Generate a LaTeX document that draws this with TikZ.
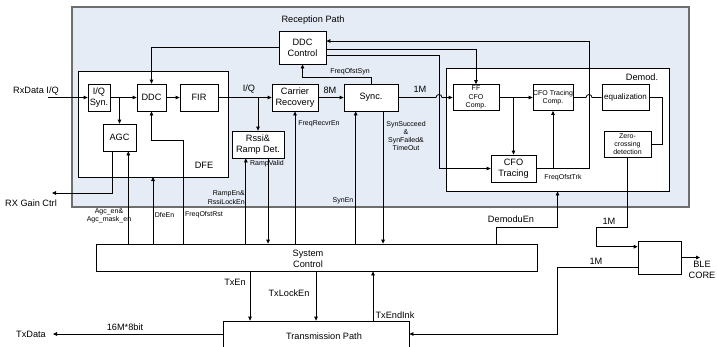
\documentclass[tikz,border=0pt]{standalone}
\usepackage{fontspec}
\setmainfont{Liberation Sans}
\usetikzlibrary{arrows.meta,calc}
\newcommand\mainsz{\fontsize{9.2bp}{11bp}\selectfont}
\newcommand\smsz{\fontsize{7bp}{8.3bp}\selectfont}
\definecolor{recepfill}{RGB}{230,236,246}
\definecolor{recepedge}{RGB}{110,110,110}
\begin{document}
\begin{tikzpicture}[x=1bp,y=-1bp,
  blk/.style={draw=black, line width=0.8bp, fill=white, inner sep=0pt, align=center, font=\mainsz},
  lbl/.style={inner sep=0pt, align=center, font=\mainsz},
  sml/.style={inner sep=0pt, align=center, font=\smsz},
  conn/.style={draw=black, line width=0.8bp},
  arr/.style={-{Triangle[length=4bp,width=3.6bp]}}]
\fill[white] (0,0) rectangle (717,346);
\useasboundingbox (0,0) rectangle (717,346);
% containers
\node[draw=recepedge, line width=1.5bp, fill=recepfill, minimum width=617bp, minimum height=200bp, inner sep=0pt] (recep) at (380.5,107) {};
\node[lbl] (receplbl) at (313,20) {Reception Path};
\node[blk, minimum width=150bp, minimum height=106bp] (dfe) at (153,124) {};
\node[lbl] (dfelbl) at (204,165) {DFE};
\node[blk, minimum width=223bp, minimum height=123bp] (demod) at (557.5,129.5) {};
\node[lbl] (demodlbl) at (642,77) {Demod.};
% blocks
\node[blk, minimum width=22bp, minimum height=27bp] (iqsyn) at (99,97.5) {I/Q\\Syn.};
\node[blk, minimum width=29bp, minimum height=27bp] (ddc) at (151.5,97.5) {DDC};
\node[blk, minimum width=38bp, minimum height=27bp] (fir) at (199,97.5) {FIR};
\node[blk, minimum width=33bp, minimum height=27bp] (agc) at (119.5,137.5) {AGC};
\node[blk, minimum width=46bp, minimum height=27bp] (carrier) at (295,97.5) {Carrier\\Recovery};
\node[blk, minimum width=54bp, minimum height=27bp] (sync) at (371,97.5) {Sync.};
\node[blk, minimum width=47bp, minimum height=33bp] (ddcctl) at (302.5,47.5) {DDC\\Control};
\node[blk, minimum width=52bp, minimum height=27bp] (rssi) at (258,144.5) {Rssi\&\\Ramp Det.};
\node[blk, font=\smsz, minimum width=46bp, minimum height=26bp] (ffcfo) at (476,97.5) {FF\\CFO\\Comp.};
\node[blk, font=\smsz, minimum width=40bp, minimum height=26bp] (cfocomp) at (553,97.5) {CFO Tracing\\Comp.};
\node[blk, minimum width=45bp, minimum height=27bp] (cfotr) at (513.5,168.5) {CFO\\Tracing};
\node[blk, font=\fontsize{8bp}{9bp}\selectfont, minimum width=47bp, minimum height=26bp] (equal) at (625.5,97.5) {equalization};
\node[blk, font=\smsz, minimum width=47bp, minimum height=26bp] (zero) at (627.5,144) {Zero-\\crossing\\detection};
\node[blk, minimum width=441bp, minimum height=27bp] (sysctl) at (316.5,257.5) {};
\node[lbl] (sysctltxt) at (308,259) {System\\Control};
\node[blk, minimum width=186bp, minimum height=26bp] (trans) at (316,334) {};
\node[lbl] (transtxt) at (324,336) {Transmission Path};
\node[blk, minimum width=43bp, minimum height=33bp] (ble) at (659.5,257.5) {};
\node[lbl] (blecore) at (702,270) {BLE\\CORE};
% helper coordinates
\coordinate (rxin) at (48,97.5);
\coordinate (rxg) at (52,193);
\coordinate (agcout) at ($(agc.south west)!0.3!(agc.south east)$);
\coordinate (agcen) at ($(agc.south west)!0.76!(agc.south east)$);
\coordinate (dfeen) at (153,177);
\coordinate (frst) at (183,140);
\coordinate (rampen) at ($(rssi.south west)!0.27!(rssi.south east)$);
\coordinate (rampv) at ($(rssi.south west)!0.69!(rssi.south east)$);
\coordinate (synen) at ($(sync.south west)!0.22!(sync.south east)$);
\coordinate (synok) at ($(sync.south west)!0.72!(sync.south east)$);
\coordinate (fos) at (371,77);
\coordinate (tk1) at (589,41);
\coordinate (ff1) at (476,49);
\coordinate (tr1) at (439,55);
\coordinate (demc) at (496,227);
\coordinate (zc1) at (596,227);
\coordinate (blein) at ($(ble.north west)!0.18!(ble.south west)$);
\coordinate (bleback) at ($(ble.north west)!0.79!(ble.south west)$);
\coordinate (tcorner) at (557,334);
\coordinate (bleout) at (700,257.5);
\coordinate (txout) at (53,334);
\coordinate (txen) at (250,300);
\coordinate (txend) at (373,300);
% main data path
\draw[conn,arr] (rxin) -- (iqsyn.west);
\draw[conn,arr] (iqsyn.east) -- (ddc.west);
\draw[conn,arr] (iqsyn.east -| agc.north) -- (agc.north);
\draw[conn,arr] (ddc.east) -- (fir.west);
\draw[conn,arr] (fir.east) -- (carrier.west);
\draw[conn,arr] (fir.east -| rssi.north) -- (rssi.north);
\draw[conn,arr] (carrier.east) -- (sync.west);
\draw[conn,arr] (sync.east) -- ($(tr1 |- sync.east)+(-3,0)$) arc[start angle=180,end angle=0,radius=3bp] -- (ffcfo.west);
\draw[conn,arr] (ffcfo.east) -- (cfocomp.west);
\draw[conn,arr] (ffcfo.east -| cfotr.north) -- (cfotr.north);
\draw[conn] (cfocomp.east) -- ($(tk1 |- cfocomp.east)+(-3,0)$) arc[start angle=180,end angle=0,radius=3bp] -- (equal.west);
\draw[conn] (equal.east) -- ++(13,0) |- (zero.east);
\draw[conn,arr] (zero.south) |- (zc1) |- (blein);
\draw[conn,arr] (ble.east) -- (bleout);
\draw[conn,arr] (bleback) -| (tcorner) -- (tcorner -| trans.east);
\draw[conn,arr] (agcout) |- (rxg);
% DDC control
\draw[conn,arr] (ddcctl.west) -| (ddc.north);
\draw[conn,arr] (sync.north) -- (fos) -| (ddcctl.south);
\draw[conn,arr] (cfotr.east) -| (tk1) -- (tk1 -| ddcctl.east);
\draw[conn,arr] (cfotr.east -| cfocomp.south) -- (cfocomp.south);
\draw[conn,arr] (ddcctl.east |- ff1) -| (ffcfo.north);
\draw[conn,arr] (ddcctl.east |- tr1) -- (tr1) |- (cfotr.west);
% system control
\draw[conn,arr] (sysctl.north -| agcen) -- (agcen);
\draw[conn,arr] (sysctl.north -| dfeen) -- (dfeen);
\draw[conn,arr] (sysctl.north -| frst) -- (frst) -| (ddc.south);
\draw[conn,arr] (sysctl.north -| rampen) -- (rampen);
\draw[conn,arr] (rampv) -- (sysctl.north -| rampv);
\draw[conn,arr] (sysctl.north -| carrier.south) -- (carrier.south);
\draw[conn,arr] (sysctl.north -| synen) -- (synen);
\draw[conn,arr] (synok) -- (sysctl.north -| synok);
\draw[conn,arr] (sysctl.north -| demc) -- (demc) -| (demod.south);
\draw[conn,arr] (sysctl.south -| txen) -- (trans.north -| txen);
\draw[conn,arr] (sysctl.south -| trans.north) -- (trans.north);
\draw[conn,arr] (trans.north -| txend) -- (sysctl.south -| txend);
\draw[conn,arr] (trans.west) -- (txout);
% labels
\node[lbl] (rxdatalbl) at (36,91) {RxData I/Q};
\node[lbl] (rxgainlbl) at (31,203) {RX Gain Ctrl};
\node[lbl] (iqlbl) at (249,89.5) {I/Q};
\node[lbl] (m8lbl) at (330,90.5) {8M};
\node[lbl] (m1lbl) at (420,89.5) {1M};
\node[sml] (foslbl) at (350,72) {FreqOfstSyn};
\node[sml] (frelbl) at (319,124) {FreqRecvrEn};
\node[sml] (synoklbl) at (406,136) {SynSucceed\\\&\\SynFailed\&\\TimeOut};
\node[sml] (rvlbl) at (267,164) {RampValid};
\node[sml, align=right, anchor=east] (relbl) at (245,197.5) {RampEn\&\\RssiLockEn};
\node[sml] (synenlbl) at (343,201) {SynEn};
\node[sml] (agclbl) at (109,216) {Agc\_en\&\\Agc\_mask\_en};
\node[sml] (dfeenlbl) at (164.5,215) {DfeEn};
\node[sml] (frstlbl) at (204,215) {FreqOfstRst};
\node[sml] (trklbl) at (563,178) {FreqOfstTrk};
\node[lbl] (demlbl) at (511,219) {DemoduEn};
\node[lbl] (m1albl) at (609,221) {1M};
\node[lbl] (m1blbl) at (596,261) {1M};
\node[lbl] (txenlbl) at (235,282) {TxEn};
\node[lbl] (txlklbl) at (289,293) {TxLockEn};
\node[lbl] (txendlbl) at (395,315) {TxEndInk};
\node[lbl] (bitlbl) at (125,327) {16M*8bit};
\node[lbl] (txdatalbl) at (31,334) {TxData};
\end{tikzpicture}
\end{document}
